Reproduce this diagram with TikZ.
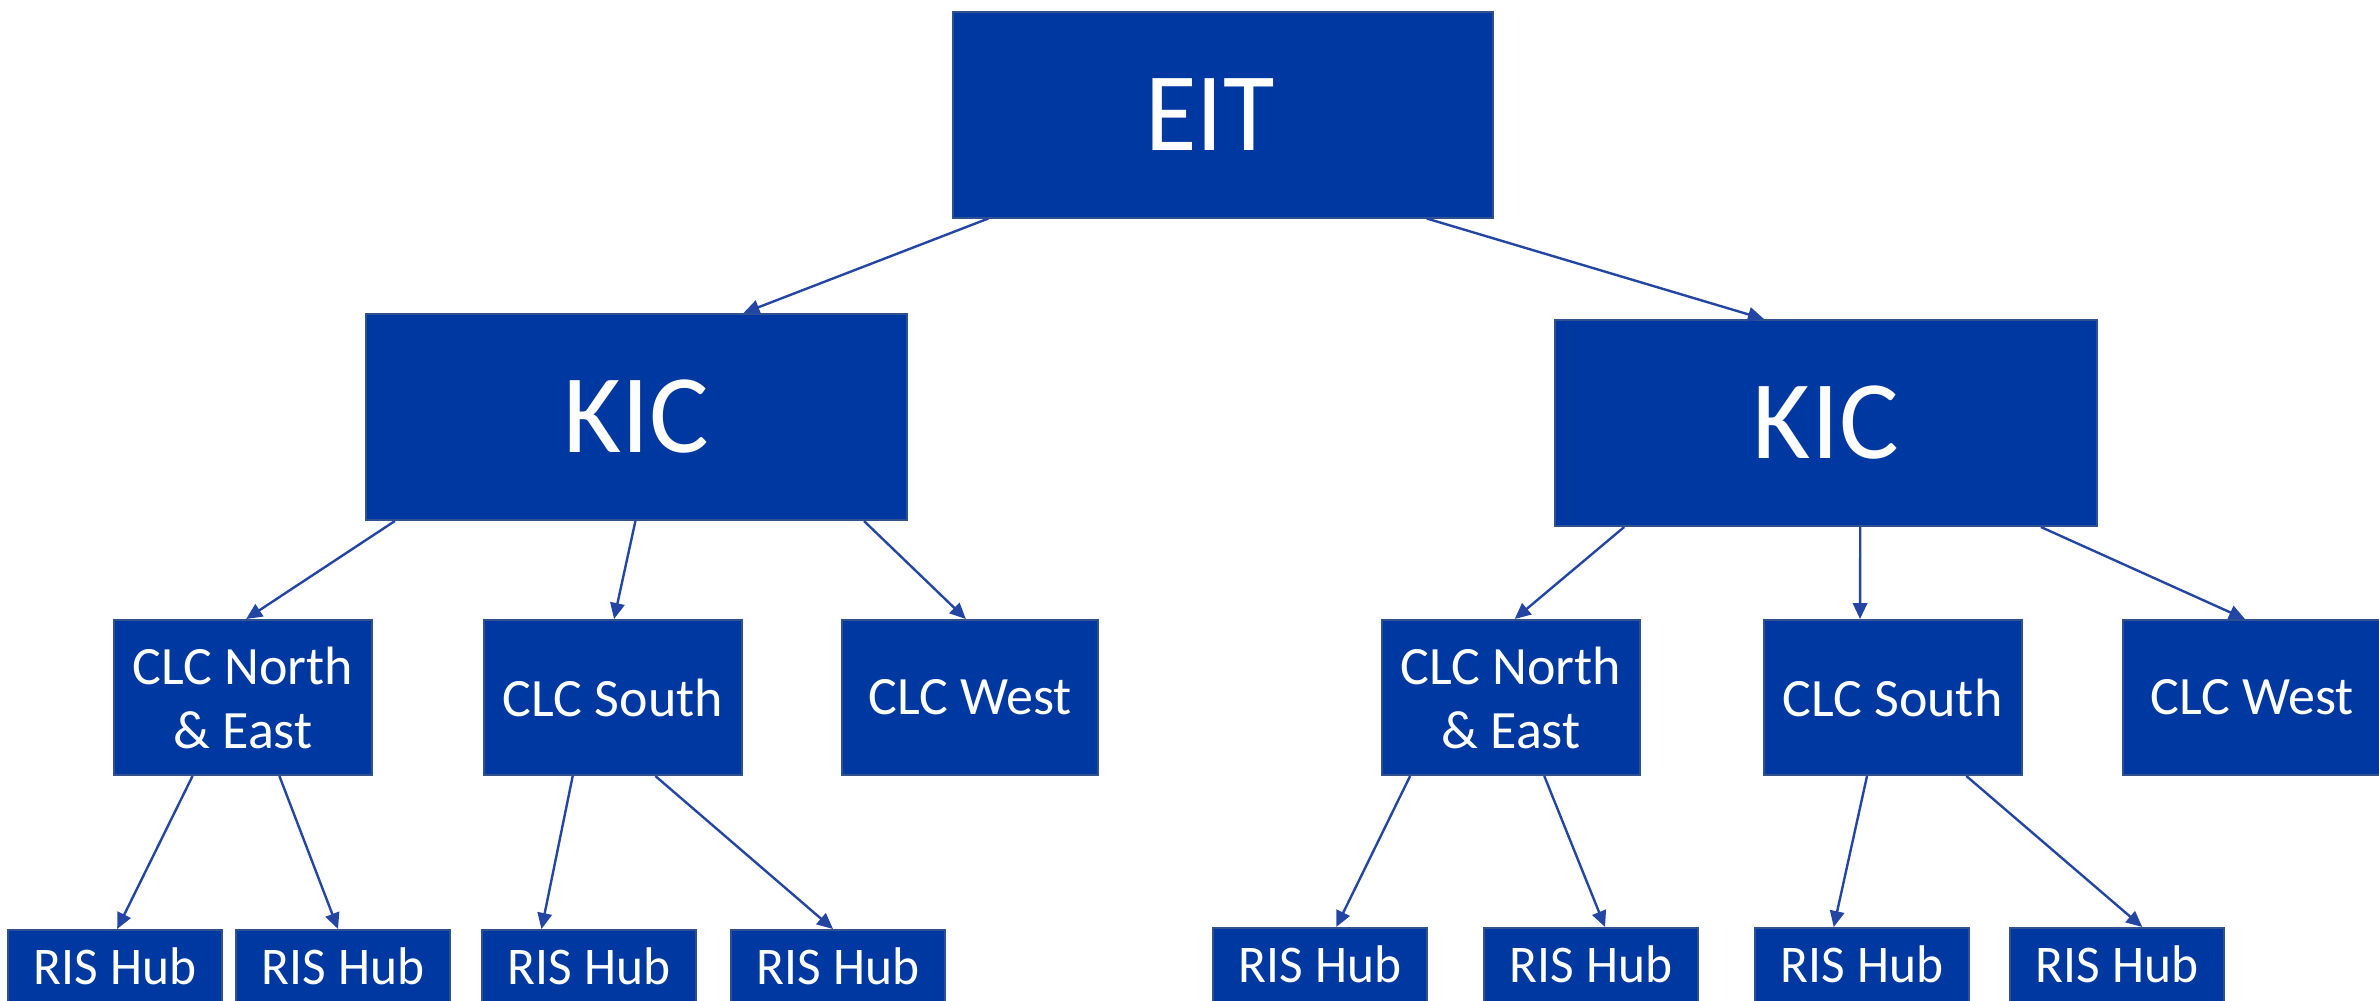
\documentclass[tikz,border=0pt]{standalone}
\usepackage{fontspec}
\setmainfont{Carlito}
\usetikzlibrary{calc,arrows.meta}
\definecolor{boxfill}{RGB}{0,56,161}
\definecolor{boxline}{RGB}{47,82,143}
\definecolor{arrcol}{RGB}{35,70,165}
\tikzset{
  box/.style={draw=boxline, fill=boxfill, line width=0.5pt, text=white, inner sep=0pt, align=center},
  bigbox/.style={box, minimum height=51.5pt, font=\fontsize{28}{32}\selectfont},
  clcbox/.style={box, minimum width=64.5pt, minimum height=38.75pt, font=\fontsize{13.5}{16}\selectfont},
  risbox/.style={box, anchor=north, minimum width=53.5pt, inner xsep=0pt, inner ysep=5pt,
    text height=8.5pt, text depth=30pt, font=\fontsize{13.25}{15}\selectfont},
  arr/.style={draw=arrcol, line width=0.6pt, -{Triangle[length=4pt,width=3.6pt]}}
}
\newcommand{\rishub}{\scalebox{0.97}[1]{RIS Hub}}
\begin{document}
\begin{tikzpicture}[x=0.25pt,y=-0.25pt]
\useasboundingbox (0,0) rectangle (2379,1000);
\clip (0,0) rectangle (2379,1000);
% top
\node[bigbox, minimum width=135pt] (eit) at (1223,114.5) {\scalebox{0.94}[1]{EIT}\kern6.5pt};
\node[bigbox, minimum width=135.25pt] (kicL) at (636.5,417) {KIC};
\node[bigbox, minimum width=135.5pt] (kicR) at (1826,423) {KIC};
% CLC left
\node[clcbox] (neL) at (243,697.5) {CLC North\\\& East};
\node[clcbox] (soL) at (613,697.5) {CLC South};
\node[clcbox, minimum width=64pt] (weL) at (970,697.5) {CLC West};
% CLC right
\node[clcbox] (neR) at (1511,697.5) {CLC North\\\& East};
\node[clcbox] (soR) at (1892.5,697.5) {CLC South};
\node[clcbox] (weR) at (2252,697.5) {CLC West};
% RIS hubs
\node[risbox] (r1) at (115,929) {\rishub};
\node[risbox] (r2) at (343,929) {\rishub};
\node[risbox] (r3) at (589,929) {\rishub};
\node[risbox] (r4) at (838,929) {\rishub};
\node[risbox] (r5) at (1320,927) {\rishub};
\node[risbox] (r6) at (1591,927) {\rishub};
\node[risbox] (r7) at (1862,927) {\rishub};
\node[risbox] (r8) at (2117,927) {\rishub};
% arrows
\draw[arr] ($(eit.south west)!0.067!(eit.south east)$) -- ($(kicL.north west)!0.697!(kicL.north east)$);
\draw[arr] ($(eit.south west)!0.876!(eit.south east)$) -- ($(kicR.north west)!0.386!(kicR.north east)$);
\draw[arr] ($(kicL.south west)!0.055!(kicL.south east)$) -- ($(neL.north west)!0.512!(neL.north east)$);
\draw[arr] ($(kicL.south west)!0.498!(kicL.south east)$) -- ($(soL.north west)!0.504!(soL.north east)$);
\draw[arr] ($(kicL.south west)!0.919!(kicL.south east)$) -- ($(weL.north west)!0.484!(weL.north east)$);
\draw[arr] ($(kicR.south west)!0.129!(kicR.south east)$) -- ($(neR.north west)!0.514!(neR.north east)$);
\draw[arr] ($(kicR.south west)!0.563!(kicR.south east)$) -- ($(soR.north west)!0.375!(soR.north east)$);
\draw[arr] ($(kicR.south west)!0.895!(kicR.south east)$) -- ($(weR.north west)!0.473!(weR.north east)$);
\draw[arr] ($(neL.south west)!0.306!(neL.south east)$) -- ($(r1.north west)!0.51!(r1.north east)$);
\draw[arr] ($(neL.south west)!0.640!(neL.south east)$) -- ($(r2.north west)!0.477!(r2.north east)$);
\draw[arr] ($(soL.south west)!0.345!(soL.south east)$) -- ($(r3.north west)!0.28!(r3.north east)$);
\draw[arr] ($(soL.south west)!0.663!(soL.south east)$) -- ($(r4.north west)!0.477!(r4.north east)$);
\draw[arr] ($(neR.south west)!0.112!(neR.south east)$) -- ($(r5.north west)!0.575!(r5.north east)$);
\draw[arr] ($(neR.south west)!0.628!(neR.south east)$) -- ($(r6.north west)!0.565!(r6.north east)$);
\draw[arr] ($(soR.south west)!0.402!(soR.south east)$) -- ($(r7.north west)!0.369!(r7.north east)$);
\draw[arr] ($(soR.south west)!0.784!(soR.south east)$) -- ($(r8.north west)!0.617!(r8.north east)$);
\end{tikzpicture}
\end{document}
